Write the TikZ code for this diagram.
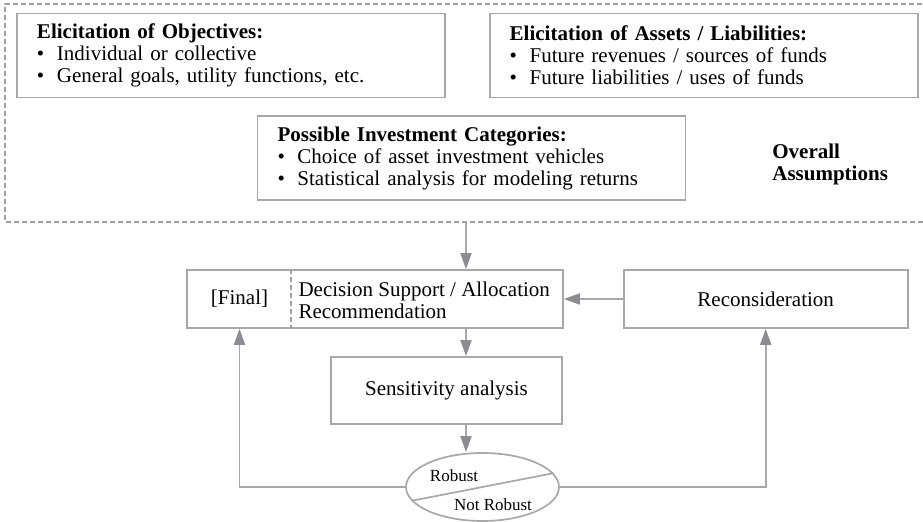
\documentclass[tikz,border=0pt]{standalone}
\usepackage{fontspec}
\setmainfont{Liberation Serif}
\usepackage{tikz}
\usetikzlibrary{arrows.meta,shapes,positioning,calc}
\usepackage{xcolor}
\definecolor{lngray}{RGB}{168,168,170}
\definecolor{tipgray}{RGB}{140,140,145}
\definecolor{dashgray}{RGB}{160,160,162}
\tikzstyle{flow} = [line width=0.85pt, color=lngray, -{Triangle[length=8pt,width=5.5pt,color=tipgray]}]
\tikzstyle{infobox} = [rectangle, draw=lngray, line width=0.85pt, minimum width=214pt, minimum height=42pt, text width=194pt, inner xsep=10pt, align=left]
\tikzstyle{stepbox} = [rectangle, draw=lngray, line width=0.85pt, minimum height=29pt, align=center]
\newcommand{\itm}{\textbullet\hspace{0.6em}}

\begin{document}
\fontsize{10.5}{11}\selectfont
\begin{tikzpicture}[x=0.5pt, y=-0.5pt]
\useasboundingbox (0,0) rectangle (923,522);

% Overall assumptions frame
\draw[dashgray, line width=0.7pt, dash pattern=on 2.5pt off 1.5pt] (930,4) -- (5,4) -- (5,222) -- (930,222);
\coordinate (framebot) at (466,222);
\coordinate (spine) at (466,0);

\node[infobox] (obj) at (231,55.5) {\textbf{Elicitation of Objectives:}\\
  \itm Individual or collective\\
  \itm General goals, utility functions, etc.};
\node[infobox, right=21.5pt of obj] (assets) {\textbf{Elicitation of Assets / Liabilities:}\\
  \itm Future revenues / sources of funds\\
  \itm Future liabilities / uses of funds};
\node[infobox] (invest) at (471.5,158) {\textbf{Possible Investment Categories:}\\
  \itm Choice of asset investment vehicles\\
  \itm Statistical analysis for modeling returns};
\node[anchor=west, align=left, font=\bfseries] (overall) at (765,164) {Overall\\Assumptions};

% Decision loop
\node[stepbox, minimum width=188pt] (alloc) at (375,299) {};
\node (final) at (239.5,299) {[Final]};
\coordinate (split) at ($(alloc.north west)+(105,0)$);
\draw[dashgray, line width=0.7pt, dash pattern=on 2.5pt off 1.5pt] (split) -- (split |- alloc.south);
\node[anchor=west, align=left] (decision) at ($(split |- alloc)+(0,1)$) {Decision Support / Allocation\\Recommendation};
\node[stepbox, minimum width=142pt, right=29.5pt of alloc] (recon) {Reconsideration};
\node[stepbox, minimum width=115.5pt, minimum height=33.5pt] (sens) at (446.5,390.5) {Sensitivity analysis};
\node[ellipse, draw=lngray, line width=0.85pt, minimum width=76.5pt, minimum height=34pt, inner sep=0pt] (robust) at (482.5,487) {};
\draw[lngray, line width=0.85pt] (robust.191) -- (robust.11);
\node[font=\fontsize{8.5}{9}\selectfont] (yes) at (454,476) {Robust};
\node[font=\fontsize{8.5}{9}\selectfont] (no) at (493,505) {Not Robust};

% Arrows
\draw[flow] (framebot) -- (alloc.north -| spine);
\draw[flow] (alloc.south -| spine) -- (sens.north -| spine);
\draw[flow] (recon.west) -- (alloc.east);
\draw[flow] (sens.south -| spine) -- (robust.north -| spine);
\draw[flow] (robust.west) -| (final |- alloc.south);
\draw[flow] (robust.east) -| (recon.south);
\end{tikzpicture}
\end{document}
